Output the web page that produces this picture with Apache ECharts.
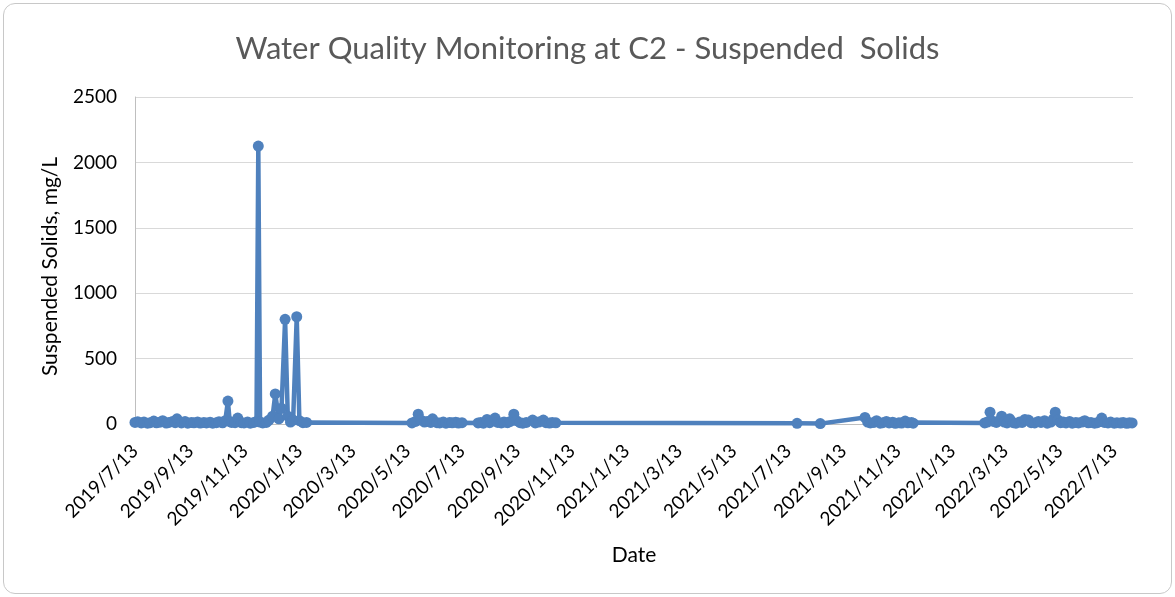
<!DOCTYPE html>
<html>
<head>
<meta charset="utf-8">
<script src="https://cdn.jsdelivr.net/npm/echarts@6/dist/echarts.min.js"></script>
<style>
  html, body { margin: 0; padding: 0; background: #ffffff; }
  #wrap { position: relative; width: 1175px; height: 597px; }
  #chart { position: absolute; left: 0; top: 0; width: 1175px; height: 597px; }
  #frame { position: absolute; left: 3px; top: 3px; width: 1167px; height: 589px;
           border: 1px solid #c8c8c8; border-radius: 12px; pointer-events: none; }
</style>
</head>
<body>
<div id="wrap">
  <div id="chart"></div>
  <div id="frame"></div>
</div>
<script>
// Sampling dates at station C2
const sampleDates = [
  '2019/7/13','2019/7/16','2019/7/20','2019/7/23','2019/7/27','2019/7/30','2019/8/3','2019/8/6',
  '2019/8/10','2019/8/13','2019/8/17','2019/8/20','2019/8/24','2019/8/27','2019/8/29','2019/9/3',
  '2019/9/7','2019/9/10','2019/9/14','2019/9/17','2019/9/21','2019/9/24','2019/9/28','2019/10/1',
  '2019/10/5','2019/10/8','2019/10/12','2019/10/15','2019/10/19','2019/10/22','2019/10/25','2019/10/27',
  '2019/10/29','2019/11/2','2019/11/5','2019/11/9','2019/11/12','2019/11/16','2019/11/19','2019/11/23',
  '2019/11/26','2019/11/28','2019/11/30','2019/12/3','2019/12/7','2019/12/10','2019/12/14','2019/12/17',
  '2019/12/21','2019/12/24','2019/12/28','2019/12/31','2020/1/3','2020/1/6','2020/1/10','2020/1/13',
  '2020/1/17','2020/1/21',
  '2020/5/18','2020/5/22','2020/5/25','2020/5/28','2020/6/1','2020/6/4','2020/6/8','2020/6/10',
  '2020/6/15','2020/6/18','2020/6/22','2020/6/25','2020/6/29','2020/7/2','2020/7/6','2020/7/9',
  '2020/7/13',
  '2020/7/31','2020/8/3','2020/8/6','2020/8/10','2020/8/13','2020/8/19','2020/8/22','2020/8/26',
  '2020/8/29','2020/9/2','2020/9/5','2020/9/9','2020/9/12','2020/9/16','2020/9/19','2020/9/23',
  '2020/9/30','2020/10/3','2020/10/7','2020/10/12','2020/10/15','2020/10/19','2020/10/22','2020/10/26',
  '2021/7/23','2021/8/18',
  '2021/10/7','2021/10/10','2021/10/13','2021/10/17','2021/10/20','2021/10/24','2021/10/27','2021/10/31',
  '2021/11/3','2021/11/7','2021/11/10','2021/11/14','2021/11/17','2021/11/21','2021/11/24','2021/11/28',
  '2021/11/30',
  '2022/2/18','2022/2/21','2022/2/24','2022/2/28','2022/3/3','2022/3/7','2022/3/9','2022/3/12',
  '2022/3/15','2022/3/18','2022/3/22','2022/3/25','2022/3/29','2022/4/1','2022/4/4','2022/4/8',
  '2022/4/11','2022/4/15','2022/4/19','2022/4/22','2022/4/26','2022/4/29','2022/5/3','2022/5/6',
  '2022/5/8','2022/5/11','2022/5/14','2022/5/17','2022/5/20','2022/5/24','2022/5/27','2022/5/31',
  '2022/6/3','2022/6/7','2022/6/10','2022/6/14','2022/6/17','2022/6/21','2022/6/24','2022/6/27',
  '2022/6/29','2022/7/2','2022/7/6','2022/7/9','2022/7/13','2022/7/16','2022/7/20','2022/7/23',
  '2022/7/27','2022/7/30','2022/8/2'
];

// Suspended solids, mg/L (one value per sampling date)
const suspendedSolids = [
  12, 18, 8, 15, 6, 10, 22, 9,
  14, 25, 7, 12, 20, 10, 40, 8,
  20, 6, 12, 9, 15, 7, 11, 8,
  14, 6, 10, 18, 9, 25, 175, 20,
  12, 10, 45, 10, 8, 15, 6, 12,
  20, 2125, 15, 8, 12, 30, 60, 230,
  40, 120, 800, 60, 15, 30, 820, 25,
  10, 12,
  8, 20, 75, 30, 15, 20, 12, 40,
  10, 8, 15, 6, 12, 9, 14, 7,
  10,
  8, 12, 6, 35, 10, 45, 12, 8,
  15, 10, 20, 75, 25, 10, 6, 12,
  30, 8, 15, 30, 10, 7, 12, 9,
  5, 3,
  50, 15, 8, 12, 25, 6, 10, 20,
  8, 14, 5, 10, 7, 22, 9, 12,
  6,
  8, 15, 90, 20, 12, 25, 60, 15,
  8, 40, 10, 6, 15, 12, 35, 30,
  10, 8, 20, 12, 25, 6, 15, 40,
  90, 30, 10, 15, 8, 20, 6, 12,
  8, 15, 25, 9, 12, 6, 10, 20,
  45, 12, 8, 15, 6, 10, 7, 12,
  5, 9, 8
];

// Date-axis tick labels (every two months)
const tickLabels = [
  '2019/7/13','2019/9/13','2019/11/13','2020/1/13','2020/3/13','2020/5/13','2020/7/13',
  '2020/9/13','2020/11/13','2021/1/13','2021/3/13','2021/5/13','2021/7/13','2021/9/13',
  '2021/11/13','2022/1/13','2022/3/13','2022/5/13','2022/7/13'
];

const axisStart = '2019/7/13';
const axisEnd = '2022/8/3';

function toTime(s) {
  const p = s.split('/').map(Number);
  return new Date(p[0], p[1] - 1, p[2]).getTime();
}
function fmtDate(t) {
  const d = new Date(t);
  return d.getFullYear() + '/' + (d.getMonth() + 1) + '/' + d.getDate();
}

const seriesData = sampleDates.map((d, i) => [toTime(d), suspendedSolids[i]]);
const tickTimes = tickLabels.map(toTime);

const FONT = 'Lato';
const chart = echarts.init(document.getElementById('chart'), null, { renderer: 'canvas' });
chart.setOption({
  animation: false,
  backgroundColor: '#ffffff',
  title: {
    text: 'Water Quality Monitoring at C2 - Suspended  Solids',
    left: 'center',
    top: 28,
    textStyle: { fontFamily: FONT, fontSize: 31, fontWeight: 'normal', color: '#595959' }
  },
  grid: { left: 135, right: 42, top: 97, bottom: 173 },
  xAxis: {
    // dates are plotted as millisecond timestamps on a linear scale
    type: 'value',
    min: toTime(axisStart),
    max: toTime(axisEnd),
    name: 'Date',
    nameLocation: 'middle',
    nameGap: 121,
    nameTextStyle: { fontFamily: FONT, fontSize: 21, color: '#000000' },
    axisLine: { show: true, lineStyle: { color: '#bfbfbf', width: 1 } },
    axisTick: { show: false },
    splitLine: { show: false },
    axisLabel: {
      customValues: tickTimes,
      rotate: 45,
      margin: 24,
      padding: [32, 0, 0, 0],
      fontFamily: FONT,
      fontSize: 19,
      color: '#000000',
      formatter: (v) => fmtDate(v)
    }
  },
  yAxis: {
    type: 'value',
    min: 0,
    max: 2500,
    interval: 500,
    name: 'Suspended Solids, mg/L',
    nameLocation: 'middle',
    nameRotate: 90,
    nameGap: 74,
    nameTextStyle: { fontFamily: FONT, fontSize: 21, color: '#000000', padding: [0, 12, 0, 0] },
    axisLine: { show: true, lineStyle: { color: '#bfbfbf', width: 1 } },
    axisTick: { show: false },
    splitLine: { show: true, lineStyle: { color: '#d9d9d9', width: 1 } },
    axisLabel: {
      margin: 18, fontFamily: FONT, fontSize: 19, color: '#000000',
      formatter: (v) => String(v)
    }
  },
  series: [{
    type: 'line',
    data: seriesData,
    showAllSymbol: true,
    symbol: 'circle',
    symbolSize: 11,
    lineStyle: { color: '#4f81bd', width: 4.5 },
    itemStyle: { color: '#4f81bd' }
  }]
});
</script>
</body>
</html>
